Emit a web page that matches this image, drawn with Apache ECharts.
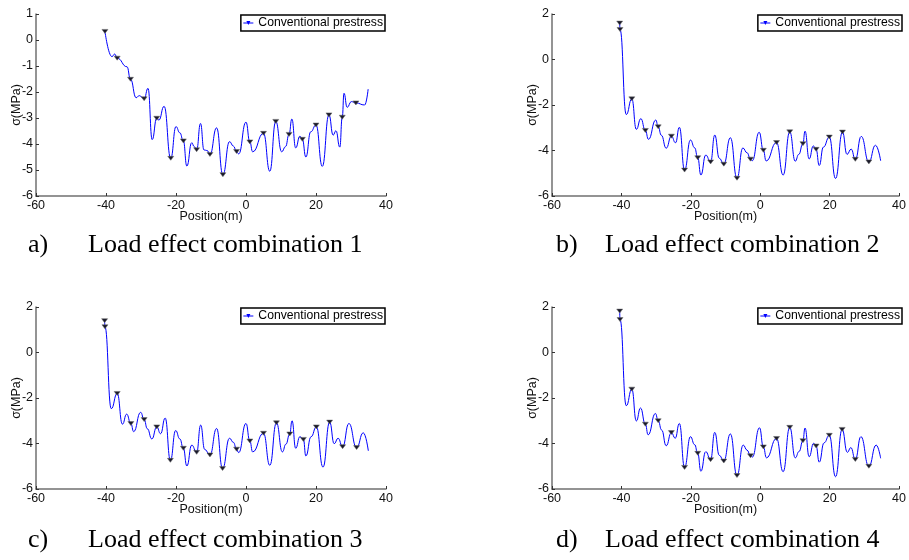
<!DOCTYPE html>
<html>
<head>
<meta charset="utf-8">
<script src="https://cdn.jsdelivr.net/npm/echarts@6/dist/echarts.min.js"></script>
<style>html,body{margin:0;padding:0;background:#fff}#c{width:909px;height:560px}</style>
</head>
<body>
<div id="c"></div>
<script>
// ---- data ----
const seriesName = 'Conventional prestress';
const xTicks = [-60, 40, 20];            // min, max, interval of Position axis
const captions = ['Load effect combination 1','Load effect combination 2','Load effect combination 3','Load effect combination 4'];
const captionTags = ['a)','b)','c)','d)'];

const posA = [-40.3,-38.3,-37.5,-36.8,-34.0,-33.0,-31.4,-30.5,-29.1,-28.0,-26.8,-25.5,-24.9,-23.4,-21.5,-20.0,-18.9,-17.9,-16.9,-15.5,-14.8,-14.1,-13.0,-12.0,-11.1,-10.3,-8.4,-6.6,-4.7,-3.6,-2.7,-2.1,0.0,1.1,1.9,5.0,6.8,8.5,10.2,11.3,12.3,13.1,14.2,15.4,16.1,17.1,18.5,20.0,21.8,23.7,24.9,25.7,26.8,27.5,28.0,28.9,30.1,31.4,33.9,34.9];
const sigA = [0.33,-0.64,-0.54,-0.70,-1.03,-1.51,-2.22,-2.14,-2.26,-1.86,-3.83,-3.01,-3.08,-2.55,-4.55,-3.33,-3.57,-3.88,-4.85,-3.95,-4.10,-4.22,-3.21,-4.23,-4.25,-4.40,-3.38,-5.18,-3.91,-4.08,-4.29,-4.38,-3.16,-3.92,-4.30,-3.59,-5.05,-3.13,-4.30,-4.10,-3.63,-3.04,-4.15,-3.70,-3.82,-4.50,-3.53,-3.27,-4.86,-2.88,-3.66,-3.49,-4.12,-2.97,-2.05,-2.59,-2.37,-2.42,-2.50,-1.89];
const mkA = [-40.3,-36.8,-33.0,-29.1,-25.5,-21.5,-17.9,-14.1,-10.3,-6.6,-2.7,1.1,5.0,8.5,12.3,16.1,20.0,23.7,27.5,31.4];

const posB = [-40.5,-40.4,-38.6,-37.0,-35.7,-34.4,-33.1,-32.2,-30.1,-29.4,-28.5,-27.1,-25.6,-24.4,-23.3,-21.8,-20.1,-18.9,-18.0,-17.1,-15.7,-14.3,-13.1,-11.8,-10.5,-8.6,-6.7,-5.0,-3.8,-2.8,-2.3,-0.3,0.9,1.7,4.7,6.6,8.5,10.1,11.1,12.3,12.9,14.1,15.3,16.1,17.0,18.2,19.9,21.7,23.7,25.0,26.2,27.4,29.1,31.3,33.2,34.7];
const sigB = [1.60,1.32,-2.42,-1.73,-3.07,-2.60,-3.12,-3.51,-2.66,-2.96,-3.33,-3.90,-3.37,-3.66,-2.98,-4.86,-3.54,-3.88,-4.32,-5.08,-4.20,-4.50,-3.32,-4.34,-4.60,-3.44,-5.22,-3.89,-4.10,-4.38,-4.45,-3.20,-3.99,-4.46,-3.65,-5.08,-3.18,-4.47,-4.17,-3.70,-3.15,-4.37,-3.80,-3.95,-4.66,-3.85,-3.41,-5.23,-3.19,-4.17,-3.94,-4.39,-3.38,-4.50,-3.77,-4.45];
const mkB = [-40.5,-40.4,-37.0,-33.1,-29.4,-25.6,-21.8,-18.0,-14.3,-10.5,-6.7,-2.8,0.9,4.7,8.5,12.3,16.1,19.9,23.7,27.4,31.3];

const posC = [-40.4,-40.3,-38.5,-36.8,-35.3,-34.1,-32.9,-32.1,-30.1,-29.1,-28.2,-26.9,-25.5,-24.4,-23.1,-21.6,-20.1,-18.9,-17.9,-16.9,-15.5,-14.1,-12.95,-11.8,-10.3,-8.4,-6.7,-4.7,-3.6,-2.7,-2.1,0.0,1.1,1.9,5.0,6.8,8.7,10.4,11.4,12.5,13.15,14.2,15.4,16.4,17.1,18.6,20.1,22.0,23.9,25.2,26.3,27.6,29.4,31.6,33.5,34.95];
const sigC = [1.40,1.13,-2.47,-1.80,-3.15,-2.71,-3.12,-3.48,-2.63,-2.95,-3.35,-3.80,-3.27,-3.57,-2.88,-4.74,-3.43,-3.80,-4.21,-4.99,-4.07,-4.39,-3.19,-4.26,-4.50,-3.34,-5.10,-3.77,-3.95,-4.25,-4.40,-3.12,-3.89,-4.37,-3.55,-4.96,-3.09,-4.37,-4.03,-3.58,-3.00,-4.21,-3.70,-3.82,-4.55,-3.70,-3.27,-5.04,-3.06,-4.01,-3.77,-4.14,-3.12,-4.18,-3.53,-4.32];
const mkC = [-40.4,-40.3,-36.8,-32.9,-29.1,-25.5,-21.6,-17.9,-14.1,-10.3,-6.7,-2.7,1.1,5.0,8.7,12.5,16.4,20.1,23.9,27.6,31.6];

const posD = [-40.5,-40.4,-38.6,-37.0,-35.7,-34.5,-33.1,-32.3,-30.2,-29.4,-28.4,-27.1,-25.6,-24.5,-23.3,-21.8,-20.1,-18.9,-18.0,-17.1,-15.7,-14.3,-13.1,-11.8,-10.5,-8.6,-6.7,-4.9,-3.8,-2.8,-2.3,-0.2,0.9,1.8,4.7,6.6,8.5,10.1,11.2,12.3,12.9,14.1,15.4,16.1,17.0,18.4,19.9,21.7,23.6,25.1,26.1,27.4,29.0,31.3,33.4,34.7];
const sigD = [1.82,1.45,-2.34,-1.61,-3.01,-2.44,-3.15,-3.62,-2.68,-3.00,-3.41,-4.10,-3.52,-3.77,-3.12,-5.05,-3.70,-4.05,-4.43,-5.22,-4.36,-4.71,-3.51,-4.52,-4.77,-3.58,-5.41,-4.07,-4.29,-4.54,-4.60,-3.31,-4.15,-4.63,-3.78,-5.24,-3.29,-4.63,-4.35,-3.88,-3.32,-4.58,-3.99,-4.11,-4.82,-3.97,-3.64,-5.46,-3.38,-4.39,-4.18,-4.70,-3.70,-5.00,-4.07,-4.65];
const mkD = [-40.5,-40.4,-37.0,-33.1,-29.4,-25.6,-21.8,-18.0,-14.3,-10.5,-6.7,-2.8,0.9,4.7,8.5,12.3,16.1,19.9,23.6,27.4,31.3];

const yRanges = [[-6, 1, 1], [-6, 2, 2], [-6, 2, 2], [-6, 2, 2]]; // min, max, interval

// ---- layout ----
const panels = [
  {pos: posA, sig: sigA, mk: mkA, grid: {left: 36, top: 14, width: 350, height: 182}, cap: {x: 28, tx: 88, y: 232}},
  {pos: posB, sig: sigB, mk: mkB, grid: {left: 552, top: 14, width: 351, height: 182}, cap: {x: 556, tx: 605, y: 232}},
  {pos: posC, sig: sigC, mk: mkC, grid: {left: 36, top: 307, width: 350, height: 182}, cap: {x: 28, tx: 88, y: 527}},
  {pos: posD, sig: sigD, mk: mkD, grid: {left: 552, top: 307, width: 351, height: 182}, cap: {x: 556, tx: 605, y: 527}}
];

const sansFont = "'Liberation Sans', Arial, sans-serif";
const serifFont = "'Liberation Serif', 'Times New Roman', serif";

const grids = [], xAxes = [], yAxes = [], series = [], legends = [], titles = [];
panels.forEach((p, i) => {
  grids.push(Object.assign({containLabel: false}, p.grid));
  const axisCommon = {
    axisLine: {show: true, onZero: false, lineStyle: {color: '#707070', width: 1.5}},
    axisTick: {show: true, inside: true, length: 3, lineStyle: {color: '#333', width: 1}},
    axisLabel: {color: '#111', fontSize: 12.5, fontFamily: sansFont, margin: 3},
    splitLine: {show: false},
    nameMoveOverlap: false,
    nameTextStyle: {color: '#111', fontSize: 12.5, fontFamily: sansFont}
  };
  xAxes.push(Object.assign({}, axisCommon, {
    gridIndex: i, type: 'value', min: xTicks[0], max: xTicks[1], interval: xTicks[2],
    name: 'Position(m)', nameLocation: 'middle', nameGap: 14
  }));
  yAxes.push(Object.assign({}, axisCommon, {
    gridIndex: i, type: 'value', min: yRanges[i][0], max: yRanges[i][1], interval: yRanges[i][2],
    name: 'σ(MPa)', nameLocation: 'middle', nameGap: 13, nameRotate: 90
  }));
  series.push({
    name: seriesName, type: 'line', xAxisIndex: i, yAxisIndex: i,
    smooth: 0.5, smoothMonotone: 'x', showSymbol: true, showAllSymbol: true,
    symbol: 'triangle', symbolSize: [6, 4], symbolRotate: 180,
    lineStyle: {color: '#0000ff', width: 1},
    itemStyle: {color: '#1a1a2a', borderColor: '#666', borderWidth: 0.5},
    emphasis: {disabled: true}, animation: false,
    data: p.pos.map((x, k) => ({value: [x, p.sig[k]], symbol: p.mk.includes(x) ? 'triangle' : 'none'}))
  });
  legends.push({
    data: [seriesName], right: 909 - (p.grid.left + p.grid.width) + 1, top: p.grid.top + 1,
    orient: 'vertical', selectedMode: false,
    backgroundColor: '#fff', borderColor: '#000', borderWidth: 1.5, borderRadius: 0,
    padding: [1, 2, 1, 2], itemWidth: 10, itemHeight: 5,
    itemStyle: {color: '#0000ff', borderWidth: 0},
    lineStyle: {color: '#0000ff', width: 1},
    textStyle: {color: '#000', fontSize: 12.2, fontFamily: sansFont, lineHeight: 14}
  });
  titles.push({text: captionTags[i], left: p.cap.x, top: p.cap.y, padding: 0,
    textStyle: {fontFamily: serifFont, fontSize: 26, fontWeight: 'normal', color: '#000'}});
  titles.push({text: captions[i], left: p.cap.tx, top: p.cap.y, padding: 0,
    textStyle: {fontFamily: serifFont, fontSize: 26, fontWeight: 'normal', color: '#000'}});
});

const chart = echarts.init(document.getElementById('c'), null, {renderer: 'canvas'});
chart.setOption({
  backgroundColor: '#fff', animation: false,
  title: titles, legend: legends, grid: grids, xAxis: xAxes, yAxis: yAxes, series: series
});
</script>
</body>
</html>
